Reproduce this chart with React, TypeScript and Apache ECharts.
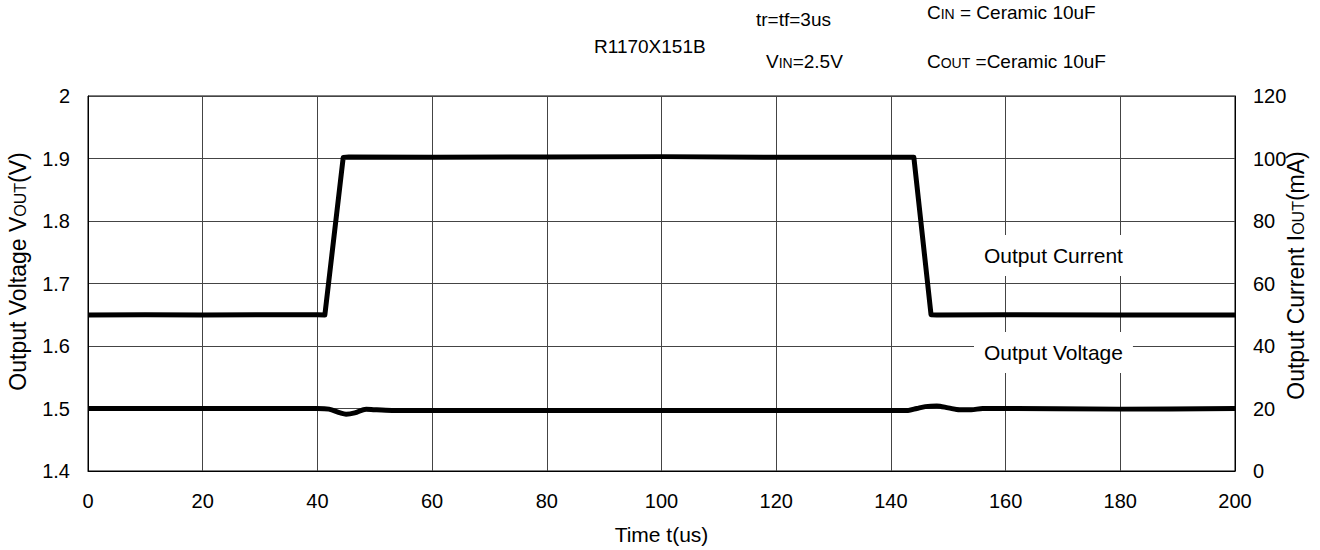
import React, { useEffect, useRef } from "react";
import * as echarts from "echarts";

const xTicks = [0, 20, 40, 60, 80, 100, 120, 140, 160, 180, 200];
const voltTicks = [1.4, 1.5, 1.6, 1.7, 1.8, 1.9, 2];
const currTicks = [0, 20, 40, 60, 80, 100, 120];

// Output current (mA) vs time (us)
const currentTime = [0, 10, 20, 30, 40, 41.3, 44.5, 45.5, 60, 80, 100, 120, 140, 144, 147, 148, 160, 180, 200];
const currentVals = [49.9, 50, 49.9, 50, 50, 49.9, 100.3, 100.5, 100.4, 100.5, 100.6, 100.4, 100.4, 100.4, 50, 49.9, 50, 49.9, 49.9];

// Output voltage (V) vs time (us)
const voltTime = [0, 20, 40, 42, 44, 45, 46.5, 48.5, 50, 53, 80, 100, 120, 143, 144.5, 146, 148, 150, 152, 154, 156, 158, 180, 200];
const voltVals = [1.5, 1.5, 1.5, 1.499, 1.493, 1.491, 1.493, 1.499, 1.498, 1.497, 1.497, 1.497, 1.497, 1.497, 1.5, 1.503, 1.504, 1.501, 1.498, 1.498, 1.5, 1.5, 1.499, 1.5];

const FONT = "Liberation Sans, Arial, sans-serif";

export default function App() {
  const ref = useRef<HTMLDivElement>(null);
  useEffect(() => {
    document.body.style.margin = "0";
    document.body.style.overflow = "hidden";
    if (!ref.current) return;
    const chart = echarts.init(ref.current, null, { renderer: "svg" });
    const richAxis = {
      a: { fontSize: 23, fontFamily: FONT, color: "#000", verticalAlign: "bottom" },
      b: { fontSize: 16, fontFamily: FONT, color: "#000", verticalAlign: "bottom", padding: [0, 0, 1, 0] },
    };
    const richTop = {
      a: { fontSize: 19, fontFamily: FONT, color: "#000", verticalAlign: "bottom" },
      b: { fontSize: 14, fontFamily: FONT, color: "#000", verticalAlign: "bottom", padding: [0, 0, 1, 0] },
    };
    chart.setOption({
      animation: false,
      backgroundColor: "#fff",
      textStyle: { fontFamily: FONT },
      grid: {
        left: 88, right: 85, top: 96, bottom: 79,
        containLabel: false, outerBoundsMode: "none",
        show: true, borderColor: "#000", borderWidth: 1,
      },
      xAxis: {
        type: "value",
        min: xTicks[0],
        max: xTicks[xTicks.length - 1],
        interval: 20,
        name: "Time t(us)",
        nameLocation: "middle",
        nameGap: 53,
        nameTextStyle: { fontSize: 21, color: "#000", fontFamily: FONT },
        axisLine: { show: true, lineStyle: { color: "#000" } },
        axisTick: { show: false },
        axisLabel: { fontSize: 20, color: "#000", margin: 20, fontFamily: FONT },
        splitLine: { show: true, lineStyle: { color: "#444", width: 1 } },
      },
      yAxis: [
        {
          type: "value",
          min: voltTicks[0],
          max: voltTicks[voltTicks.length - 1],
          interval: 0.1,
          position: "left",
          name: "{a|Output Voltage V}{b|OUT}{a|(V)}",
          nameLocation: "middle",
          nameGap: 59,
          nameTextStyle: { rich: richAxis, padding: [0, 0, 0, 24] },
          axisLine: { show: true, lineStyle: { color: "#000" } },
          axisTick: { show: false },
          axisLabel: { fontSize: 20, color: "#000", margin: 18, fontFamily: FONT, formatter: (v: number) => String(Math.round(v * 10) / 10) },
          splitLine: { show: true, lineStyle: { color: "#444", width: 1 } },
        },
        {
          type: "value",
          min: currTicks[0],
          max: currTicks[currTicks.length - 1],
          interval: 20,
          position: "right",
          name: "{a|Output Current I}{b|OUT}{a|(mA)}",
          nameLocation: "middle",
          nameGap: 49,
          nameMoveOverlap: false,
          nameTextStyle: { rich: richAxis, padding: [0, 0, 0, 16] },
          axisLine: { show: true, lineStyle: { color: "#000" } },
          axisTick: { show: false },
          axisLabel: { fontSize: 20, color: "#000", margin: 18, fontFamily: FONT },
          splitLine: { show: false },
        },
      ],
      series: [
        {
          type: "line",
          yAxisIndex: 1,
          data: currentTime.map((t, i) => [t, currentVals[i]]),
          showSymbol: false,
          lineStyle: { color: "#000", width: 5, join: "round" },
          smooth: false,
        },
        {
          type: "line",
          yAxisIndex: 0,
          data: voltTime.map((t, i) => [t, voltVals[i]]),
          showSymbol: false,
          smooth: 0.3,
          lineStyle: { color: "#000", width: 5 },
        },
      ],
      graphic: [
        { type: "text", left: 594, top: 37, style: { text: "R1170X151B", font: `19px ${FONT}`, fill: "#000" } },
        { type: "text", left: 756, top: 10, style: { text: "tr=tf=3us", font: `19px ${FONT}`, fill: "#000" } },
        { type: "text", left: 927, top: 3, style: { text: "{a|C}{b|IN}{a| = Ceramic 10uF}", rich: richTop, fill: "#000" } },
        { type: "text", left: 766, top: 52, style: { text: "{a|V}{b|IN}{a|=2.5V}", rich: richTop, fill: "#000" } },
        { type: "text", left: 927, top: 52, style: { text: "{a|C}{b|OUT}{a| =Ceramic 10uF}", rich: richTop, fill: "#000" } },
        { type: "text", left: 974, top: 235, z: 10, style: { text: "Output Current", font: `21px ${FONT}`, fill: "#000", backgroundColor: "#fff", padding: [10, 10, 10, 10] } },
        { type: "text", left: 974, top: 332, z: 10, style: { text: "Output Voltage", font: `21px ${FONT}`, fill: "#000", backgroundColor: "#fff", padding: [10, 10, 10, 10] } },
      ],
    });
    return () => chart.dispose();
  }, []);
  return <div ref={ref} style={{ width: 1320, height: 550, overflow: "hidden" }} />;
}
